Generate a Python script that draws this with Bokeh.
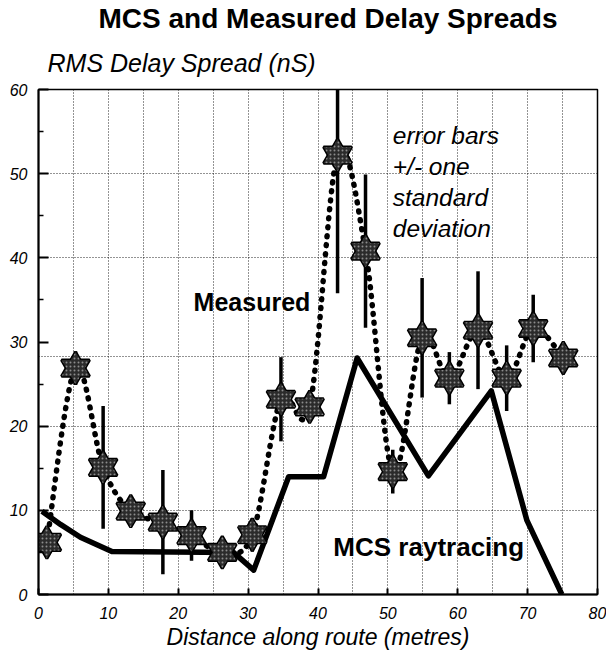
from bokeh.plotting import figure
from bokeh.models import Range1d, FixedTicker, Label, ColumnDataSource, Title
from bokeh.embed import file_html
from bokeh.resources import INLINE

# ---- data ----
meas_x = [1.2, 5.3, 9.25, 13.2, 17.8, 21.9, 26.3, 30.6, 34.7, 38.8, 42.8, 46.8,
          50.7, 54.9, 58.8, 62.9, 67.0, 70.8, 75.1]
meas_y = [6.2, 26.9, 15.1, 9.9, 8.6, 7.0, 5.0, 7.1, 23.2, 22.3, 52.2, 40.8,
          14.6, 30.5, 25.7, 31.4, 25.7, 31.6, 28.1]
meas_sd = [1.0, 2.0, 7.3, 1.0, 6.2, 3.0, 1.0, 2.0, 5.0, 1.5, 16.4, 9.1,
           2.6, 7.1, 3.1, 7.0, 3.9, 4.0, 1.0]

mcs_x = [0.5, 3.2, 6.0, 10.5, 27.9, 30.8, 35.8, 40.8, 45.6, 55.8, 64.8, 69.9, 74.9]
mcs_y = [9.9, 8.3, 6.8, 5.1, 5.0, 2.9, 14.0, 14.0, 28.1, 14.1, 24.2, 8.8, 0.0]

x_ticks = [0, 10, 20, 30, 40, 50, 60, 70, 80]
y_ticks = [0, 10, 20, 30, 40, 50, 60]
y_minor = [5, 15, 25, 35, 45, 55]
x_grid = [5, 10, 15, 20, 25, 30, 35, 40, 45, 50, 55, 60, 65, 70, 75]
y_grid = [10, 20, 28.3, 40, 50]

title_text = "MCS and Measured Delay Spreads"
ylabel_text = "RMS Delay Spread (nS)"
xlabel_text = "Distance along route (metres)"
note_lines = ["error bars", "+/- one", "standard", "deviation"]

FONT = "Liberation Sans"

p = figure(width=606, height=655, output_backend="svg", toolbar_location=None,
           x_range=Range1d(0, 80), y_range=Range1d(0, 60),
           min_border_left=38, min_border_right=9, min_border_top=87,
           min_border_bottom=61)
p.background_fill_color = "white"
p.border_fill_color = "white"
p.outline_line_color = "black"
p.outline_line_width = 1.5

# titles
p.title.text = title_text
p.title.text_font = FONT
p.title.text_font_size = "28px"
p.title.text_font_style = "bold"
p.title.text_color = "black"
p.title.align = "left"
p.title.offset = 60
p.title.standoff = 1
sub = Title(text=ylabel_text, text_font=FONT, text_font_size="25px",
            text_font_style="italic", text_color="black", align="left",
            offset=9, standoff=25)
p.add_layout(sub, "above")

# grids
p.xgrid.ticker = FixedTicker(ticks=x_grid)
p.ygrid.ticker = FixedTicker(ticks=y_grid)
for g in (p.xgrid, p.ygrid):
    g.grid_line_color = "black"
    g.grid_line_dash = "1 2"
    g.grid_line_width = 1
    g.grid_line_alpha = 0.85

# axes
p.xaxis.ticker = FixedTicker(ticks=x_ticks)
p.yaxis.ticker = FixedTicker(ticks=y_ticks, minor_ticks=y_minor)
for ax in (p.xaxis, p.yaxis):
    ax.axis_line_color = "black"
    ax.axis_line_width = 2
    ax.major_tick_line_color = "black"
    ax.major_tick_line_width = 2
    ax.major_tick_out = 0
    ax.minor_tick_out = 0
    ax.major_label_text_font = FONT
    ax.major_label_text_font_style = "italic"
    ax.major_label_text_font_size = "16px"
    ax.major_label_text_color = "black"
p.xaxis.major_tick_in = 6
p.xaxis.minor_tick_line_color = None
p.xaxis.major_label_standoff = 12
p.xaxis.axis_label = xlabel_text
p.xaxis.axis_label_text_font = FONT
p.xaxis.axis_label_text_font_size = "23px"
p.xaxis.axis_label_text_font_style = "italic"
p.xaxis.axis_label_text_color = "black"
p.xaxis.axis_label_standoff = 2
p.yaxis.major_tick_in = 10
p.yaxis.minor_tick_in = 5
p.yaxis.minor_tick_line_color = "black"
p.yaxis.minor_tick_line_width = 1.5
p.yaxis.major_label_standoff = 11

# MCS raytracing line
p.line(mcs_x, mcs_y, line_color="black", line_width=5.5, line_join="round")

# smooth dotted measured curve (Catmull-Rom drawn as Bezier segments)
n = len(meas_x)
x0, y0, x1, y1, cx0, cy0, cx1, cy1 = [], [], [], [], [], [], [], []
for i in range(n - 1):
    pm = max(i - 1, 0)
    pp = min(i + 2, n - 1)
    x0.append(meas_x[i]); y0.append(meas_y[i])
    x1.append(meas_x[i + 1]); y1.append(meas_y[i + 1])
    cx0.append(meas_x[i] + (meas_x[i + 1] - meas_x[pm]) / 6.0)
    cy0.append(meas_y[i] + (meas_y[i + 1] - meas_y[pm]) / 6.0)
    cx1.append(meas_x[i + 1] - (meas_x[pp] - meas_x[i]) / 6.0)
    cy1.append(meas_y[i + 1] - (meas_y[pp] - meas_y[i]) / 6.0)
p.bezier(x0=x0, y0=y0, x1=x1, y1=y1, cx0=cx0, cy0=cy0, cx1=cx1, cy1=cy1,
         line_color="black", line_width=5.5, line_dash="1 8", line_cap="round")

# error bars
lo = [y - s for y, s in zip(meas_y, meas_sd)]
hi = [y + s for y, s in zip(meas_y, meas_sd)]
p.segment(x0=meas_x, y0=lo, x1=meas_x, y1=hi, line_color="black", line_width=3.5)

# six-pointed stars: outline pass, then fill pass
src = ColumnDataSource(dict(x=meas_x, y=meas_y))
for m in ("triangle", "inverted_triangle"):
    p.scatter("x", "y", source=src, marker=m, size=28, fill_color=None,
              line_color="black", line_width=3)
for m in ("triangle", "inverted_triangle"):
    p.scatter("x", "y", source=src, marker=m, size=28, fill_color="#2b2b2b",
              line_color=None, hatch_pattern="dot", hatch_color="#8c8c8c",
              hatch_scale=4, hatch_weight=1)

# in-plot texts
def lab(x, y, t, size, style):
    p.add_layout(Label(x=x, y=y, text=t, text_font=FONT, text_font_size=size,
                       text_font_style=style, text_color="black",
                       text_align="left", text_baseline="alphabetic"))

lab(22.2, 34.8, "Measured", "25px", "bold")
lab(42.2, 5.7, "MCS raytracing", "26px", "bold")
for k, t in enumerate(note_lines):
    lab(50.7, 54.5 - k * 3.67, t, "24.5px", "italic")

open("out.html", "w").write(file_html(p, INLINE))
